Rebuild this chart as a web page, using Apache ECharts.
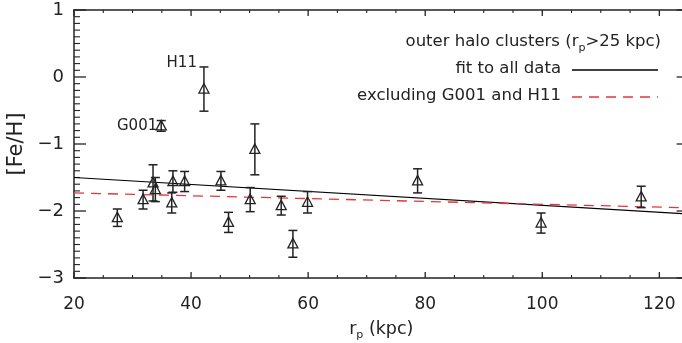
<!DOCTYPE html>
<html>
<head>
<meta charset="utf-8">
<script src="https://cdn.jsdelivr.net/npm/echarts@6/dist/echarts.min.js"></script>
<style>
html,body{margin:0;padding:0;background:#fff;}
#chart{width:682px;height:343px;}
</style>
</head>
<body>
<div id="chart"></div>
<script>
// Data
var rp   = [27.4, 31.8, 33.5, 33.9, 34.9, 36.9, 36.7, 38.9, 42.2, 45.1, 46.4, 50.1, 50.9, 55.4, 57.4, 59.9, 78.7, 99.8, 116.9];
var feh  = [-2.10, -1.83, -1.58, -1.68, -0.73, -1.56, -1.88, -1.56, -0.18, -1.55, -2.17, -1.83, -1.08, -1.92, -2.49, -1.87, -1.55, -2.18, -1.79];
var ferr = [0.13, 0.14, 0.27, 0.18, 0.08, 0.16, 0.15, 0.15, 0.33, 0.14, 0.15, 0.18, 0.38, 0.14, 0.20, 0.16, 0.18, 0.15, 0.16];
var names = ['', '', '', '', 'G001', '', '', '', 'H11', '', '', '', '', '', '', '', '', '', ''];
var fitAllX = [20, 125];
var fitAllY = [-1.50, -2.046];
var fitExclX = [20, 125];
var fitExclY = [-1.73, -1.953];
var xTicks = [20, 40, 60, 80, 100, 120];
var xMinorTicks = [25, 30, 35, 45, 50, 55, 65, 70, 75, 85, 90, 95, 105, 110, 115, 125];
var yTicks = [-3, -2, -1, 0, 1];
var yMinorSteps = [0.1, 0.2, 0.3, 0.4, 0.5, 0.6, 0.7, 0.8, 0.9];

var pts = rp.map(function (x, i) { return [x, feh[i], ferr[i], names[i]]; });
var fitAll = fitAllX.map(function (x, i) { return [x, fitAllY[i]]; });
var fitExcl = fitExclX.map(function (x, i) { return [x, fitExclY[i]]; });

// tick marks (axis decoration) positioned through the axes' scales
var tickItems = [];
xTicks.forEach(function (v) { tickItems.push(['x', v, 6]); });
xMinorTicks.forEach(function (v) { tickItems.push(['x', v, 3]); });
yTicks.forEach(function (v) {
  tickItems.push(['y', v, 12]);
  if (v < 1) yMinorSteps.forEach(function (s) { tickItems.push(['y', Math.round((v + s) * 10) / 10, 6]); });
});

var FONT = 'DejaVu Sans';
var INK = '#222';
var RED = '#e8343a';
var XMIN = 20, XMAX = 125, YMIN = -3, YMAX = 1;

function minus(v) { return v < 0 ? '\u2212' + Math.abs(v) : String(v); }

var chart = echarts.init(document.getElementById('chart'), null, {renderer: 'canvas'});

var axLine = {show: true, onZero: false, lineStyle: {color: INK, width: 1.5}};
var xBase = {type: 'value', min: XMIN, max: XMAX, interval: 20, gridIndex: 0, splitLine: {show: false}, axisTick: {show: false}};
var yBase = {type: 'value', min: YMIN, max: YMAX, interval: 1, splitLine: {show: false}, axisTick: {show: false}};

var option = {
  animation: false,
  backgroundColor: '#fff',
  grid: {left: 74, top: 10, width: 614.6, height: 268, containLabel: false, outerBoundsMode: 'none'},
  xAxis: [
    Object.assign({}, xBase, {
      position: 'bottom',
      axisLine: axLine,
      axisLabel: {fontFamily: FONT, fontSize: 17, color: INK, margin: 18, showMaxLabel: false,
        formatter: function (v) { return xTicks.indexOf(v) >= 0 ? String(v) : ''; }},
      name: '{r|r}{s|p}{r| (kpc)}', nameLocation: 'middle', nameGap: 42,
      nameTextStyle: {rich: {
        r: {fontFamily: FONT, fontSize: 17.5, color: INK},
        s: {fontFamily: FONT, fontSize: 11, color: INK, verticalAlign: 'bottom', padding: [0, 0, -3, 0]}
      }}
    }),
    Object.assign({}, xBase, {
      position: 'top', axisLine: axLine, axisLabel: {show: false}
    })
  ],
  yAxis: [
    Object.assign({}, yBase, {
      position: 'left',
      axisLine: axLine,
      axisLabel: {fontFamily: FONT, fontSize: 18, color: INK, margin: 10,
        formatter: function (v) { return yTicks.indexOf(v) >= 0 ? minus(v) : ''; }},
      name: '[Fe/H]', nameLocation: 'middle', nameGap: 42, nameRotate: 90,
      nameTextStyle: {fontFamily: FONT, fontSize: 21, color: INK}
    }),
    Object.assign({}, yBase, {
      position: 'right', axisLine: axLine, axisLabel: {show: false}
    })
  ],
  graphic: [
    {type: 'text', x: 661, y: 42, silent: true,
      style: {text: '{t|outer halo clusters (r}{s|p}{t|>25 kpc)}', align: 'right', verticalAlign: 'middle', rich: {
        t: {fontFamily: FONT, fontSize: 16.5, fill: INK},
        s: {fontFamily: FONT, fontSize: 11, fill: INK, verticalAlign: 'bottom', padding: [0, 0, -3, 0]}
      }}},
    {type: 'text', x: 561, y: 69, silent: true,
      style: {text: 'fit to all data', fontFamily: FONT, fontSize: 16.5, fill: INK, align: 'right', verticalAlign: 'middle'}},
    {type: 'line', silent: true, shape: {x1: 572, y1: 70, x2: 658, y2: 70}, style: {stroke: '#000', lineWidth: 1.3}},
    {type: 'text', x: 561, y: 96, silent: true,
      style: {text: 'excluding G001 and H11', fontFamily: FONT, fontSize: 16.5, fill: INK, align: 'right', verticalAlign: 'middle'}},
    {type: 'line', silent: true, shape: {x1: 572, y1: 97, x2: 658, y2: 97}, style: {stroke: RED, lineWidth: 1.3, lineDash: [10, 7]}}
  ],
  series: [
    {
      type: 'custom', xAxisIndex: 0, yAxisIndex: 0, silent: true, z: 1, clip: false,
      data: tickItems.map(function (it) { return it[0] === 'x' ? [it[1], -1] : [50, it[1]]; }),
      renderItem: function (params, api) {
        var it = tickItems[params.dataIndex];
        var len = it[2];
        var st = {stroke: INK, lineWidth: len > 6 || (it[0] === 'x' && len > 3) ? 1.3 : 1.1};
        var a, b;
        if (it[0] === 'x') {
          a = api.coord([it[1], YMIN]);
          b = api.coord([it[1], YMAX]);
          return {type: 'group', children: [
            {type: 'line', shape: {x1: a[0], y1: a[1], x2: a[0], y2: a[1] - len}, style: st},
            {type: 'line', shape: {x1: b[0], y1: b[1], x2: b[0], y2: b[1] + len}, style: st}
          ]};
        }
        a = api.coord([XMIN, it[1]]);
        b = api.coord([XMAX, it[1]]);
        return {type: 'group', children: [
          {type: 'line', shape: {x1: a[0], y1: a[1], x2: a[0] + len, y2: a[1]}, style: st},
          {type: 'line', shape: {x1: b[0], y1: b[1], x2: b[0] - len, y2: b[1]}, style: st}
        ]};
      }
    },
    {
      type: 'line', xAxisIndex: 0, yAxisIndex: 0, data: fitAll, symbol: 'none',
      lineStyle: {color: '#000', width: 1.2}, silent: true, z: 2
    },
    {
      type: 'line', xAxisIndex: 0, yAxisIndex: 0, data: fitExcl, symbol: 'none',
      lineStyle: {color: RED, width: 1.3, type: [10, 7]}, silent: true, z: 2
    },
    {
      type: 'custom', xAxisIndex: 0, yAxisIndex: 0, data: pts, z: 3,
      renderItem: function (params, api) {
        var x = api.value(0), y = api.value(1), e = api.value(2);
        var nm = pts[params.dataIndex][3];
        var p = api.coord([x, y]);
        var t = api.coord([x, y + e]);
        var b = api.coord([x, y - e]);
        var st = {stroke: INK, lineWidth: 1.5, fill: null};
        var cw = 4.5;
        var ch = [
          {type: 'line', shape: {x1: p[0], y1: t[1], x2: p[0], y2: b[1]}, style: st},
          {type: 'line', shape: {x1: p[0] - cw, y1: t[1], x2: p[0] + cw, y2: t[1]}, style: st},
          {type: 'line', shape: {x1: p[0] - cw, y1: b[1], x2: p[0] + cw, y2: b[1]}, style: st},
          {type: 'polygon', shape: {points: [[p[0], p[1] - 5.5], [p[0] - 5, p[1] + 4], [p[0] + 5, p[1] + 4]]},
            style: {stroke: INK, lineWidth: 1.3, fill: 'none'}}
        ];
        if (nm === 'G001') {
          ch.push({type: 'text', x: p[0] - 4, y: p[1], style: {text: nm, fontFamily: FONT, fontSize: 15, fill: INK, align: 'right', verticalAlign: 'middle'}});
        } else if (nm === 'H11') {
          ch.push({type: 'text', x: p[0] - 7, y: p[1] - 26, style: {text: nm, fontFamily: FONT, fontSize: 15, fill: INK, align: 'right', verticalAlign: 'middle'}});
        }
        return {type: 'group', children: ch};
      }
    }
  ]
};
chart.setOption(option);
</script>
</body>
</html>
